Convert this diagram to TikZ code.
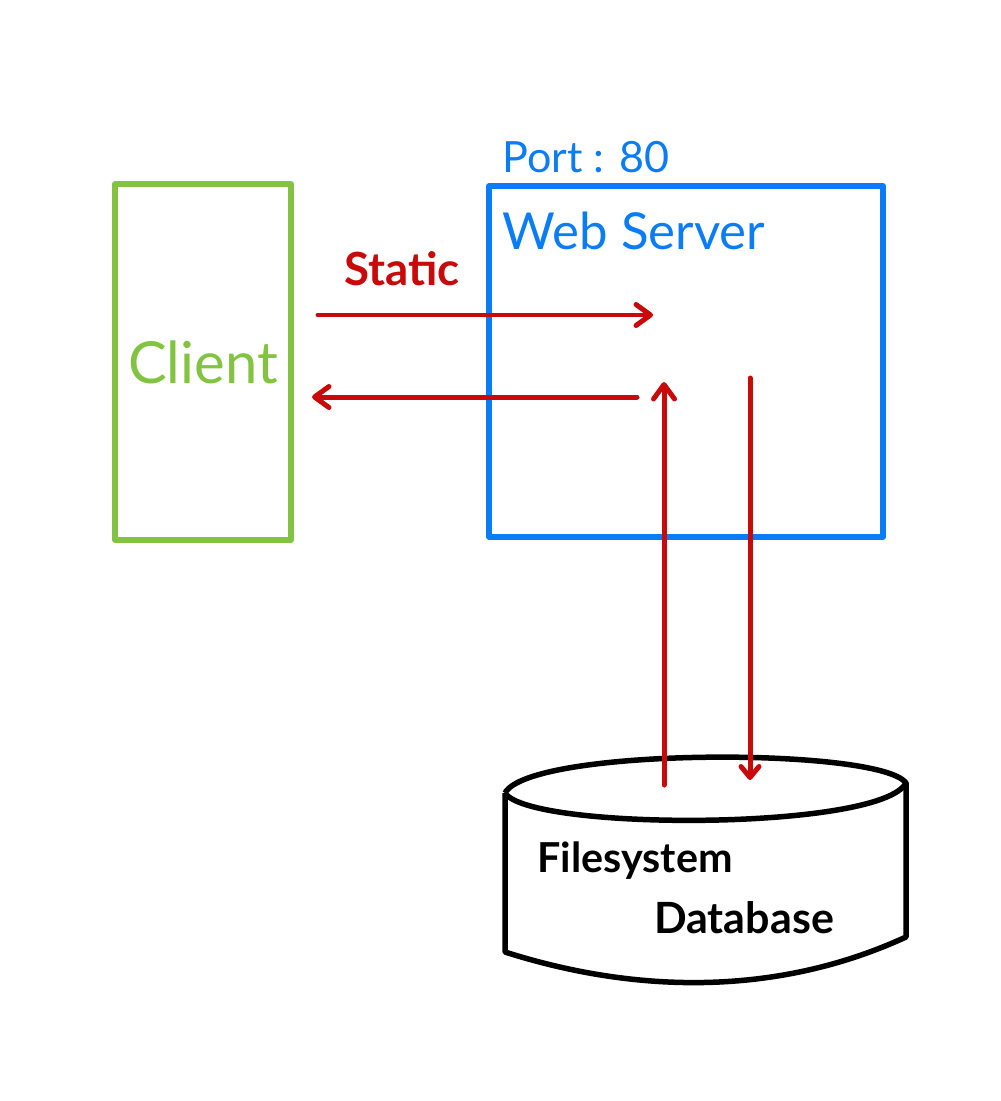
\documentclass[tikz,border=0pt]{standalone}
\usepackage{fontspec}
\setmainfont{Lato}
\usetikzlibrary{arrows.meta}
\definecolor{clientgreen}{HTML}{82C341}
\definecolor{serverblue}{HTML}{0A7CF5}
\definecolor{flowred}{HTML}{C80A0A}
\begin{document}
\begin{tikzpicture}[
  x=0.02cm, y=-0.02cm,
  >={Straight Barb[length=2.9mm, width=4.2mm, line width=1mm, round]},
  box/.style={draw, line width=1.1mm, line join=round, inner sep=0pt},
  arr/.style={->, line width=1mm, line cap=round, draw=flowred},
  lbl/.style={inner sep=0pt, anchor=base},
]
\useasboundingbox (0,0) rectangle (1000,1101);
% ---- boxes ----
\node[box, draw=clientgreen, text=clientgreen, minimum width=3.52cm, minimum height=7.12cm,
      font=\fontsize{33}{36}\selectfont] (client) at (203,362) {Client};
\node[box, draw=serverblue, minimum width=7.88cm, minimum height=7.02cm] (server) at (686,361.5) {};
% ---- server labels ----
\node[lbl, text=serverblue, font=\fontsize{24.5}{28}\selectfont] (port) at (586,173) {Port : 80};
\node[lbl, text=serverblue, font=\fontsize{29}{32}\selectfont] (web) at (634,250) {Web Server};
% ---- database ----
\coordinate (dbleft) at (505,793);
\coordinate (dbright) at (906,783);
\coordinate (dblow) at (505,952);
\coordinate (dbhigh) at (906,937);
\draw[line width=1.1mm, line join=round] (dbleft)
  .. controls (530,747) and (880,747) .. (dbright)
  .. controls (880,831) and (530,831) .. (dbleft);
\draw[line width=1.1mm, line join=round] (dbleft) -- (dblow)
  .. controls (640,995) and (780,995) .. (dbhigh) -- (dbright);
\node[lbl, font=\bfseries\fontsize{23.5}{26}\selectfont] (files) at (635,872) {Filesystem};
\node[lbl, font=\bfseries\fontsize{24.5}{27}\selectfont] (data) at (744,933) {Database};
% ---- flow ends ----
\coordinate (reqstart) at (318,315);
\coordinate (reqend) at (653,315);
\coordinate (respstart) at (637,397);
\coordinate (respend) at (312,397);
\coordinate (readstart) at (664,785);
\coordinate (readend) at (664,382);
\coordinate (writestart) at (750,378);
\coordinate (writeend) at (750,780);
% ---- arrows ----
\draw[arr] (reqstart) -- (reqend);
\draw[arr] (respstart) -- (respend);
\draw[arr] (readstart) -- (readend);
\draw[arr, -{Straight Barb[length=2.2mm, width=3.6mm, line width=1mm, round]}] (writestart) -- (writeend);
\node[lbl, text=flowred, font=\bfseries\fontsize{26}{29}\selectfont] (static) at (402,286) {Static};
\end{tikzpicture}
\end{document}
